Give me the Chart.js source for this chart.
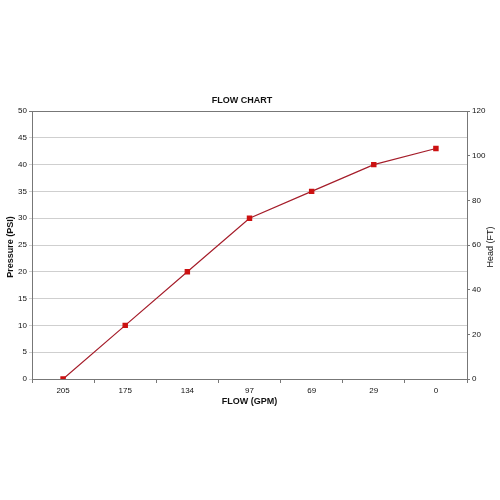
<!DOCTYPE html>
<html><head><meta charset="utf-8">
<script src="https://cdn.jsdelivr.net/npm/chart.js@4.4.1/dist/chart.umd.min.js"></script>
<style>html,body{margin:0;padding:0;background:#fff}#wrap{width:500px;height:500px}</style>
</head><body><div id="wrap"><canvas id="c" width="500" height="500"></canvas></div>
<script>
const categories = ['205','175','134','97','69','29','0'];
const pressure = [0,10,20,30,35,40,43];
const headTicks = [0,20,40,60,80,100,120];
const chartTitle = 'FLOW CHART';
const xTitle = 'FLOW (GPM)';
const yTitle = 'Pressure (PSI)';
const y1Title = 'Head (FT)';

const FONT = '"Liberation Sans", Arial, sans-serif';

const textPlugin = {
  id: 'texts',
  afterDraw(chart) {
    const ctx = chart.ctx, a = chart.chartArea;
    ctx.save();
    ctx.fillStyle = '#111';
    ctx.textAlign = 'center';
    ctx.textBaseline = 'middle';
    ctx.font = 'bold 9px ' + FONT;
    ctx.fillText(chartTitle, 242, 101);
    ctx.fillText(xTitle, (a.left + a.right) / 2, 402);
    const cy = (a.top + a.bottom) / 2 + 2;
    ctx.save(); ctx.translate(11, cy); ctx.rotate(-Math.PI / 2); ctx.fillText(yTitle, 0, 0); ctx.restore();
    ctx.font = '9px ' + FONT;
    ctx.save(); ctx.translate(490.5, cy); ctx.rotate(-Math.PI / 2); ctx.fillText(y1Title, 0, 0); ctx.restore();
    ctx.restore();
  }
};

new Chart(document.getElementById('c'), {
  type: 'line',
  data: {
    labels: categories,
    datasets: [{
      data: pressure,
      borderColor: '#a51d2a',
      borderWidth: 1.2,
      backgroundColor: '#cc1111',
      pointBackgroundColor: '#cc1111',
      pointBorderColor: '#cc1111',
      pointStyle: 'rect',
      pointRadius: 3,
      tension: 0,
      yAxisID: 'y'
    }]
  },
  options: {
    responsive: false,
    animation: false,
    layout: { padding: { top: 111, left: 0, right: 0, bottom: 0 } },
    plugins: { legend: { display: false }, title: { display: false }, tooltip: { enabled: false } },
    scales: {
      x: {
        type: 'category',
        offset: true,
        grid: { offset: true, drawOnChartArea: false, tickLength: 4, color: '#777' },
        border: { color: '#777', width: 1 },
        ticks: { font: { family: FONT, size: 8 }, color: '#111', padding: 3, maxRotation: 0 },
        afterFit(s) { s.height = 121; }
      },
      y: {
        position: 'left',
        min: 0, max: 50,
        ticks: { stepSize: 5, font: { family: FONT, size: 8 }, color: '#111', padding: 2 },
        grid: { color: (c) => c.tick && c.tick.value === 50 ? '#777' : '#cfcfcf', tickLength: 3 },
        border: { color: '#777', width: 1 },
        afterFit(s) { s.width = 32; }
      },
      y1: {
        position: 'right',
        min: 0, max: 120,
        afterBuildTicks(s) { s.ticks = headTicks.map(v => ({ value: v })); },
        ticks: { font: { family: FONT, size: 8 }, color: '#111', padding: 2 },
        grid: { drawOnChartArea: false, tickLength: 3, color: '#777' },
        border: { color: '#777', width: 1 },
        afterFit(s) { s.width = 33; }
      }
    }
  },
  plugins: [textPlugin]
});
</script></body></html>
